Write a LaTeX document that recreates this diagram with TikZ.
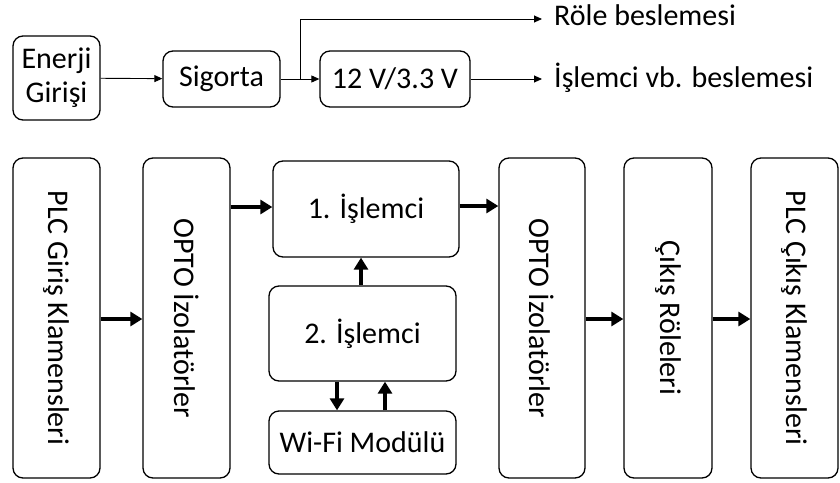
\documentclass[tikz,border=0pt]{standalone}
\usepackage{fontspec}
\setmainfont{Carlito}
\usetikzlibrary{arrows.meta}
\tikzset{
  box/.style={draw, line width=1.3pt, rounded corners=10pt, inner sep=0pt, align=center, font=\fontsize{30}{34}\selectfont},
  txt/.style={font=\fontsize{30}{34}\selectfont, inner sep=0pt},
  thin/.style={line width=0.9pt, -{Triangle[length=8pt,width=7pt]}},
  thick/.style={line width=3.6pt, -{Triangle[length=12pt,width=14pt]}},
}
\begin{document}
\begin{tikzpicture}[x=1pt,y=-1pt]
\useasboundingbox (0,0) rectangle (840,482);
% top row
\node[box, minimum width=87pt, minimum height=84pt] (en) at (56.5,78) {Enerji\\Girişi};
\node[box, minimum width=117pt, minimum height=56pt] (sig) at (221.5,79) {Sigorta};
\node[box, minimum width=150pt, minimum height=56pt] (reg) at (395,79) {12 V/3.3 V};
\coordinate (br) at (300,79);
\coordinate (rl) at (542,19);
\coordinate (il) at (542,79);
\node[txt, anchor=west] (rt) at (554,15) {Röle beslemesi};
\node[txt, anchor=west] (it) at (554,78) {İşlemci vb. beslemesi};
\draw[thin] (en) -- (sig);
\draw[thin] (sig) -- (reg);
\draw[thin] (br) |- (rl);
\draw[thin] (reg) -- (il);
% bottom row
\node[box, minimum width=87pt, minimum height=320pt] (plc) at (56.5,318) {};
\node[txt, rotate=-90] (plct) at (plc) {PLC Giriş Klamensleri};
\node[box, minimum width=87pt, minimum height=320pt] (op1) at (186.5,318) {};
\node[txt, rotate=-90] (op1t) at (op1) {OPTO İzolatörler};
\node[box, minimum width=186pt, minimum height=96pt] (p1) at (366,209) {1. İşlemci};
\node[box, minimum width=187pt, minimum height=95pt] (p2) at (362.5,333.5) {2. İşlemci};
\node[box, minimum width=187pt, minimum height=63pt] (wifi) at (362.5,442.5) {Wi-Fi Modülü};
\node[box, minimum width=86pt, minimum height=320pt] (op2) at (542,318) {};
\node[txt, rotate=-90] (op2t) at (op2) {OPTO İzolatörler};
\node[box, minimum width=88pt, minimum height=320pt] (rel) at (668,318) {};
\node[txt, rotate=-90] (relt) at (rel) {Çıkış Röleleri};
\node[box, minimum width=87pt, minimum height=320pt] (out) at (794.5,318) {};
\node[txt, rotate=-90] (outt) at (out) {PLC Çıkış Klamensleri};
\draw[thick] (plc.east |- 0,319) -- (op1.west |- 0,319);
\draw[thick] (op1.east |- 0,207) -- (p1.west |- 0,207);
\draw[thick] (p1.east |- 0,206) -- (op2.west |- 0,206);
\draw[thick] (op2.east |- 0,319) -- (rel.west |- 0,319);
\draw[thick] (rel.east |- 0,319) -- (out.west |- 0,319);
\draw[thick] (p2.north -| 361,0) -- (p1.south -| 361,0);
\draw[thick] (p2.south -| 337,0) -- (wifi.north -| 337,0);
\draw[thick] (wifi.north -| 385,0) -- (p2.south -| 385,0);
\end{tikzpicture}
\end{document}
